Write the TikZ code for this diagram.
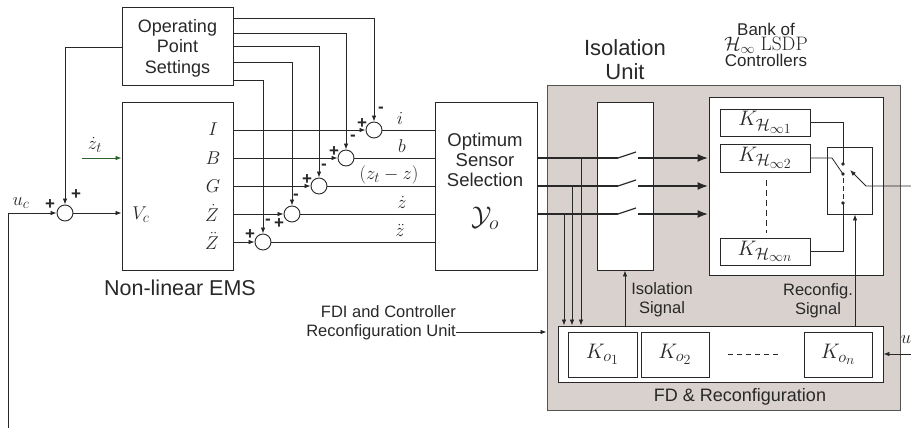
\RequirePackage{fix-cm}
\documentclass[tikz,border=0pt]{standalone}
\usepackage[no-math]{fontspec}
\setmainfont{Liberation Sans}
\usetikzlibrary{arrows.meta,calc}
\DeclareMathSizes{18.5}{18.5}{14.5}{12}
\DeclareMathSizes{21}{21}{16.5}{14}
\DeclareMathSizes{19.5}{19.5}{14}{11}
\DeclareMathSizes{27}{27}{20}{15}
\definecolor{ink}{RGB}{40,40,40}
\definecolor{panel}{RGB}{216,209,205}
\definecolor{zgreen}{RGB}{45,100,45}
\begin{document}
\begin{tikzpicture}[x=1pt,y=-1pt,
  box/.style={draw=ink, line width=0.9pt, fill=white, rectangle, inner sep=0pt},
  sum/.style={circle, draw=ink, line width=0.9pt, minimum size=16pt, inner sep=0pt, fill=white},
  ln/.style={draw=ink, line width=0.8pt},
  arr/.style={ln, -{Latex[length=6pt,width=4.5pt]}},
  bigln/.style={draw=ink, line width=2.2pt},
  bigarr/.style={bigln, -{Latex[length=11pt,width=8pt]}},
  lbl/.style={inner sep=0pt, text=ink},
  sgn/.style={lbl, font=\fontsize{17}{17}\selectfont\bfseries},
  mlab/.style={lbl, font=\fontsize{18.5}{18.5}\selectfont},
  klab/.style={lbl, font=\fontsize{21}{21}\selectfont},
]
\useasboundingbox (0,0) rectangle (911,434);

% panel
\node[rectangle, draw=ink!80, line width=0.9pt, fill=panel, minimum width=353pt, minimum height=325pt, inner sep=0pt] (panel) at (723.5,247.5) {};

% boxes
\node[box, minimum width=111pt, minimum height=78pt] (ops) at (177.5,46) {};
\node[box, minimum width=111pt, minimum height=168pt] (ems) at (177.5,186) {};
\node[box, minimum width=102pt, minimum height=168pt] (oss) at (486,186) {};
\node[box, minimum width=56pt, minimum height=168pt] (iso) at (625,186) {};
\node[box, minimum width=174pt, minimum height=178pt] (bank) at (796,186) {};
\node[box, minimum width=90pt, minimum height=27pt] (k1) at (765,122.5) {};
\node[box, minimum width=90pt, minimum height=28pt] (k2) at (765,158) {};
\node[box, minimum width=90pt, minimum height=27pt] (kn) at (765,251.5) {};
\node[box, minimum width=45pt, minimum height=67pt] (sw) at (849.5,180.5) {};
\node[box, minimum width=325pt, minimum height=56pt] (fd) at (720.5,354) {};
\node[box, minimum width=69pt, minimum height=45pt] (ko1) at (602.5,354.5) {};
\node[box, minimum width=68pt, minimum height=45pt] (ko2) at (675,354.5) {};
\node[box, minimum width=68pt, minimum height=45pt] (kon) at (838,354.5) {};

% sums
\node[sum] (j0) at (65,213) {};
\node[sum] (j1) at (374,130) {};
\node[sum] (j2) at (346,158) {};
\node[sum] (j3) at (319,186) {};
\node[sum] (j4) at (292,214) {};
\node[sum] (j5) at (263,242) {};

% texts in boxes
\node[lbl, align=center, font=\fontsize{18}{20.5}\selectfont] (opst) at (177.5,48) {Operating\\Point\\Settings};
\node[lbl, font=\fontsize{21.5}{24}\selectfont] (emst) at (180,288) {Non-linear EMS};
\node[lbl, align=center, font=\fontsize{18.5}{20}\selectfont] (osst) at (485,160) {Optimum\\Sensor\\Selection};
\node[lbl, font=\fontsize{27}{27}\selectfont] (yo) at (485,218) {$\mathcal{Y}_o$};
\node[lbl, align=center, font=\fontsize{22}{24}\selectfont] (isot) at (625,60) {Isolation\\Unit};
\node[lbl, align=center, font=\fontsize{17}{12.5}\selectfont] (bankt) at (766,45) {Bank of\\{\fontsize{19.5}{12.5}\selectfont$\mathcal{H}_\infty\ \mathrm{LSDP}$}\\Controllers};
\node[lbl, align=center, font=\fontsize{16.5}{19}\selectfont] (isosig) at (662,300) {Isolation\\Signal};
\node[lbl, align=center, font=\fontsize{16.5}{19}\selectfont] (recsig) at (818,301) {Reconfig.\\Signal};
\node[lbl, font=\fontsize{18}{20}\selectfont] (fdt) at (740,397) {FD \& Reconfiguration};
\node[lbl, anchor=east, align=right, font=\fontsize{16.5}{19}\selectfont] (fdi) at (456,322.5) {FDI and Controller\\Reconfiguration Unit};

% EMS port labels
\node[mlab] (lI) at (213,129) {$I$};
\node[mlab] (lB) at (213,158) {$B$};
\node[mlab] (lG) at (213,186) {$G$};
\node[mlab] (lZd) at (212,213) {$\dot Z$};
\node[mlab] (lZdd) at (212,241) {$\ddot Z$};
\node[mlab] (lVc) at (141,215) {$V_c$};
\node[mlab] (luc) at (21,203) {$u_c$};
\node[mlab] (lzt) at (95,145) {$\dot z_t$};

% output labels
\node[mlab] (li) at (400,118) {$i$};
\node[mlab] (lb) at (402,146) {$b$};
\node[mlab] (lzz) at (389,175) {$(z_t-z)$};
\node[mlab] (lzd) at (402,202) {$\dot z$};
\node[mlab] (lzdd) at (400,230) {$\ddot z$};

% K labels
\node[klab] (tk1) at (765,122.5) {$K_{\mathcal{H}_{\infty 1}}$};
\node[klab] (tk2) at (765,158) {$K_{\mathcal{H}_{\infty 2}}$};
\node[klab] (tkn) at (765,251.5) {$K_{\mathcal{H}_{\infty n}}$};
\node[klab] (tko1) at (602.5,354.5) {$K_{o_1}$};
\node[klab] (tko2) at (675,354.5) {$K_{o_2}$};
\node[klab] (tkon) at (838,354.5) {$K_{o_n}$};
\node[mlab] (lu) at (906,340) {$u$};

% signs
\node[sgn] (s0a) at (50,205) {+};
\node[sgn] (s0b) at (76,195) {+};
\node[sgn] (s1a) at (362,124) {+};
\node[sgn] (s1b) at (381,110) {-};
\node[sgn] (s2a) at (334,152) {+};
\node[sgn] (s2b) at (353,138) {-};
\node[sgn] (s3a) at (307,180) {+};
\node[sgn] (s3b) at (324,167) {-};
\node[sgn] (s4b) at (296,197) {-};
\node[sgn] (s4a) at (279,224) {+};
\node[sgn] (s5b) at (268,222) {-};
\node[sgn] (s5a) at (250,235) {+};

% feedback u_c into j0
\coordinate (ucb) at (8,428);
\draw[arr] (ucb) |- (j0.west);
\draw[arr] (ops.west |- 0,47) -| (j0.north);
\draw[arr] (j0.east) -- (ems.west |- j0);
\coordinate (zts) at (82,158);
\draw[ln, draw=zgreen, -{Latex[length=6pt,width=4.5pt]}] (zts) -- (ems.west |- zts);

% EMS to sums
\draw[arr] (ems.east |- j1) -- (j1.west);
\draw[arr] (ems.east |- j2) -- (j2.west);
\draw[arr] (ems.east |- j3) -- (j3.west);
\draw[arr] (ems.east |- j4) -- (j4.west);
\draw[arr] (ems.east |- j5) -- (j5.west);

% OPS to sums
\draw[arr] (ops.east |- 0,18) -| (j1.north);
\draw[arr] (ops.east |- 0,33.5) -| (j2.north);
\draw[arr] (ops.east |- 0,46) -| (j3.north);
\draw[arr] (ops.east |- 0,62.5) -| (j4.north);
\draw[arr] (ops.east |- 0,80) -| (j5.north);

% sums to OSS
\draw[ln] (j1.east) -- (oss.west |- j1);
\draw[ln] (j2.east) -- (oss.west |- j2);
\draw[ln] (j3.east) -- (oss.west |- j3);
\draw[ln] (j4.east) -- (oss.west |- j4);
\draw[ln] (j5.east) -- (oss.west |- j5);

% OSS outputs with switches
\foreach \yy/\nm in {158/a,186/b,214/c}{
  \coordinate (swl\nm) at (618,\yy);
  \coordinate (swt\nm) at (636,\yy-6);
  \coordinate (swr\nm) at (638,\yy);
  \draw[bigln] (oss.east |- swl\nm) -- (swl\nm);
  \draw[line width=1.2pt, draw=ink] (swl\nm) -- (swt\nm);
  \draw[bigarr] (swr\nm) -- (bank.west |- swr\nm);
}
% taps to FD
\draw[arr] (581,158) -- (fd.north -| 581,0);
\draw[arr] (572,186) -- (fd.north -| 572,0);
\draw[arr] (564,214) -- (fd.north -| 564,0);

% isolation and reconfig signals
\draw[arr] (fd.north -| iso) -- (iso.south);
\draw[arr] (fd.north -| 855,0) -- (sw.south -| 855,0);

% FDI arrow
\draw[arr] (fdi.east |- 0,332) -- (panel.west |- 0,332);
% u arrow
\coordinate (ur) at (911,354);
\draw[arr] (ur) -- (fd.east |- ur);

% dashes
\draw[ln, dash pattern=on 5pt off 4pt] (728,354) -- (781,354);
\draw[ln, dash pattern=on 6pt off 4pt] (766,180) -- (766,233);

% switch
\coordinate (d1) at (843,164);
\coordinate (d2) at (843,174);
\coordinate (d3) at (843,203);
\fill[ink] (d1) circle (1.9pt) (d2) circle (1.9pt) (d3) circle (1.9pt);
\draw[ln] (k1.east) -| (d1);
\draw[ln] (k2.east) -- (832,158) -- (d2);
\draw[ln] (kn.east) -| (d3);
\draw[ln, dash pattern=on 5pt off 3pt] (843,178) -- (843,200);
\coordinate (outr) at (911,186);
\draw[arr] (outr) -- (866,186) -- (850,170);
\end{tikzpicture}
\end{document}
